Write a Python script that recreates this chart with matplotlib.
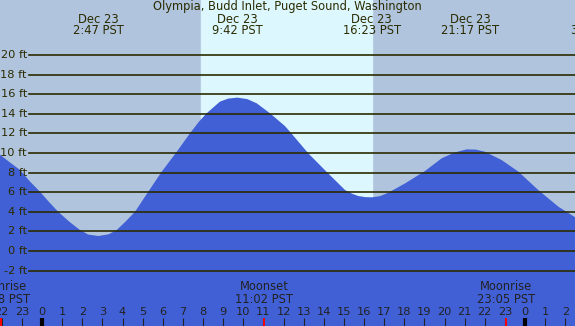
import numpy as np
import matplotlib as mpl
mpl.use('Agg')
import matplotlib.pyplot as plt

# tide curve: hours from midnight Dec 23, height in ft
hours = [-2.2, -1.6, -1.09, -0.6, -0.1, 0.35, 0.81, 1.35, 1.89, 2.3, 2.8, 3.3,
         3.71, 4.15, 4.62, 5.28, 5.95, 6.64, 7.35, 7.8, 8.18, 8.84, 9.25, 9.71,
         10.2, 10.67, 11.33, 12.07, 12.32, 13.23, 14.15, 15.06, 15.4, 15.72,
         16.05, 16.41, 16.8, 17.21, 18.04, 19.03, 19.86, 20.5, 21.1, 21.55,
         22.01, 22.84, 23.67, 24.66, 25.66, 26.6]
heights = [10.0, 9.05, 8.27, 7.1, 6.05, 5.0, 4.0, 3.0, 2.14, 1.68, 1.53, 1.7,
           2.14, 3.0, 4.0, 6.05, 8.1, 9.97, 12.0, 13.2, 14.05, 15.24, 15.55, 15.65,
           15.5, 15.07, 14.05, 12.75, 12.17, 9.97, 8.06, 6.22, 5.85, 5.61,
           5.5, 5.48, 5.6, 5.95, 6.9, 8.16, 9.46, 10.05, 10.37, 10.35,
           10.13, 9.28, 8.1, 6.22, 4.52, 3.3]

# tide events (top labels)
event_hours = [2.78, 9.70, 16.38, 21.28, 27.55]
event_dates = ['Dec 23', 'Dec 23', 'Dec 23', 'Dec 23', 'Dec 24']
event_times = ['2:47 PST', '9:42 PST', '16:23 PST', '21:17 PST', '3:33 PST']

# moon events (bottom labels)
moon_hours = [-2.03, 11.03, 23.08]
moon_names = ['Moonrise', 'Moonset', 'Moonrise']
moon_times = ['21:58 PST', '11:02 PST', '23:05 PST']

sunrise, sunset = 7.9, 16.4
ft_levels = list(range(-2, 22, 2))
tick_hours = list(range(-2, 27))

title = 'Olympia, Budd Inlet, Puget Sound, Washington'

txt = '#2b2b00'
night = '#B0C4DE'
day = '#DDF7FF'
water = '#4160D6'

fig = plt.figure(figsize=(5.75, 3.26), dpi=100)
ax = fig.add_axes([0, 0, 1, 1])
x0, x1 = -2.087, 26.484
y0, y1 = -7.65, 25.61
ax.set_xlim(x0, x1)
ax.set_ylim(y0, y1)
ax.axis('off')
fig.patch.set_facecolor(night)

ax.axvspan(sunrise, sunset, color=day, zorder=0)
ax.fill_between(hours, heights, y0, color=water, lw=0, zorder=1)

for lv in ft_levels:
    ax.plot([-0.646, x1], [lv, lv], color=txt, lw=1.2, zorder=2)
    ax.text(-0.75, lv, '%d ft' % lv, ha='right', va='center', fontsize=8.2, color=txt, zorder=3)

ax.text((x0 + x1) / 2, 24.9, title, ha='center', va='center', fontsize=8.3, color=txt)
for h, d, t in zip(event_hours, event_dates, event_times):
    ax.text(h, 23.67, d, ha='center', va='center', fontsize=8.3, color=txt)
    ax.text(h, 22.45, t, ha='center', va='center', fontsize=8.3, color=txt)

for h, n, t in zip(moon_hours, moon_names, moon_times):
    ax.text(h, -3.67, n, ha='center', va='center', fontsize=8.3, color='#222222')
    ax.text(h, -4.9, t, ha='center', va='center', fontsize=8.3, color='#222222')
    ax.plot([h, h], [y0, -6.84], color='red', lw=1.4, zorder=4, solid_capstyle='butt')

for h in tick_hours:
    lab = h % 24
    ax.text(h, -6.22, str(lab), ha='center', va='center', fontsize=8.2, color='#222222')
    if lab == 0:
        ax.plot([h, h], [y0, -6.84], color='black', lw=3, zorder=3, solid_capstyle='butt')
    else:
        ax.plot([h, h], [y0, -6.84], color='#222222', lw=0.8, zorder=3, solid_capstyle='butt')

fig.savefig('out.png', dpi=100, facecolor=night)
